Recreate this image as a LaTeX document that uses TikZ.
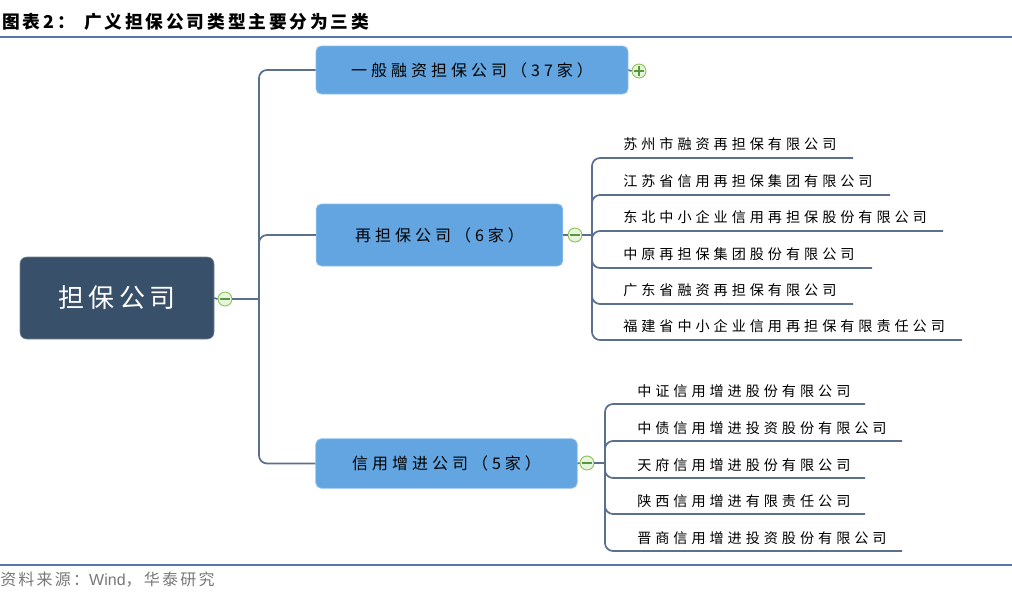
\documentclass[tikz,border=0pt]{standalone}
\usepackage{fontspec}
\setmainfont{Noto Sans CJK SC}
\newfontfamily\latinf{Liberation Sans}
\definecolor{rulecol}{RGB}{84,121,166}
\definecolor{rootfill}{RGB}{56,80,105}
\definecolor{nodeblue}{RGB}{98,165,224}
\definecolor{nodeedge}{RGB}{140,190,235}
\definecolor{linkcol}{RGB}{90,112,140}
\definecolor{tgreen}{RGB}{140,195,90}
\definecolor{tfill}{RGB}{232,245,222}
\definecolor{tdark}{RGB}{90,150,60}
\definecolor{srcgray}{RGB}{120,120,120}
\begin{document}
\begin{tikzpicture}[x=0.75pt,y=-0.75pt,
  topic/.style={draw=nodeedge, fill=nodeblue, rounded corners=4pt, line width=0.6pt, inner sep=0pt,
    font=\fontsize{12}{14}\selectfont\addfontfeature{LetterSpace=25}},
  rootbox/.style={draw=rootfill!70, fill=rootfill, rounded corners=5pt, inner sep=0pt, text=white,
    font=\fontsize{19.5}{22}\selectfont\addfontfeature{LetterSpace=16}},
  leaf/.style={anchor=west, inner sep=0pt, font=\fontsize{10.6}{12}\selectfont\addfontfeature{LetterSpace=28}},
  toggle/.style={circle, draw=tgreen, fill=tfill, minimum size=10.5pt, inner sep=0pt, line width=0.7pt},
  link/.style={draw=linkcol, line width=1.3pt, rounded corners=6pt},
  sign/.style={draw=tdark, line width=0.8pt}]
\useasboundingbox (0,0) rectangle (1012,593);
% title and rules
\node[anchor=west, inner sep=0pt, font=\fontsize{13.3}{15}\selectfont\bfseries\addfontfeature{LetterSpace=16}] (title) at (2,22) {图表2：\hspace{7pt}广义担保公司类型主要分为三类};
\draw[rulecol, line width=1.6pt] (0,37) -- (1012,37);
\draw[rulecol, line width=1.6pt] (0,565) -- (1012,565);
\node[anchor=west, inner sep=0pt, text=srcgray, font=\fontsize{12}{14}\selectfont\addfontfeature{LetterSpace=14}] (src) at (0,580) {资料来源：{\latinf\addfontfeature{LetterSpace=0}Wind}，华泰研究};

% root
\node[rootbox, minimum width=145.5pt, minimum height=61.5pt] (root) at (117,298) {担保公司};
\node[toggle] (t0) at (225,299) {};
\draw[sign] ([xshift=-3.5pt]t0.center) -- ([xshift=3.5pt]t0.center);
\coordinate (hub0) at (259,299);

% topics
\node[topic, minimum width=234pt, minimum height=36pt] (n1) at (472,70) {一般融资担保公司（37家）};
\node[topic, minimum width=185pt, minimum height=46.5pt] (n2) at (439.5,235) {再担保公司（6家）};
\node[topic, minimum width=196pt, minimum height=37pt] (n3) at (446.5,463.5) {信用增进公司（5家）};

\node[toggle] (t1) at (639,71) {};
\draw[sign] ([xshift=-3.5pt]t1.center) -- ([xshift=3.5pt]t1.center);
\draw[sign] ([yshift=-3.5pt]t1.center) -- ([yshift=3.5pt]t1.center);
\node[toggle] (t2) at (575,235) {};
\draw[sign] ([xshift=-3.5pt]t2.center) -- ([xshift=3.5pt]t2.center);
\node[toggle] (t3) at (587,463) {};
\draw[sign] ([xshift=-3.5pt]t3.center) -- ([xshift=3.5pt]t3.center);

\draw[link] (root.east) -- (t0.west);
\draw[link] (t0.east) -- (hub0);
\draw[link] (hub0) |- (n1.west);
\draw[link] (hub0) |- (n2.west);
\draw[link] (hub0) |- (n3.west);
\draw[link] (n1.east) -- (t1.west);
\draw[link] (n2.east) -- (t2.west);
\draw[link] (n3.east) -- (t3.west);

% re-guarantee leaves
\coordinate (hub2) at (592,235);
\draw[link] (t2.east) -- (hub2);
\foreach \i/\y/\e/\txt in {
  a/158/853/苏州市融资再担保有限公司,
  b/195/890/江苏省信用再担保集团有限公司,
  c/231/943/东北中小企业信用再担保股份有限公司,
  d/268/872/中原再担保集团股份有限公司,
  e/304/853/广东省融资再担保有限公司,
  f/340/962/福建省中小企业信用再担保有限责任公司}{
  \node[leaf] (l\i) at (623,\y-14) {\txt};
  \coordinate (e\i) at (\e,\y);
  \draw[link] (hub2) |- (e\i);
}

% credit enhancement leaves
\coordinate (hub3) at (605,463);
\draw[link] (t3.east) -- (hub3);
\foreach \i/\y/\e/\txt in {
  p/404/865/中证信用增进股份有限公司,
  q/441/902/中债信用增进投资股份有限公司,
  r/478/865/天府信用增进股份有限公司,
  s/514/865/陕西信用增进有限责任公司,
  t/551/902/晋商信用增进投资股份有限公司}{
  \node[leaf] (m\i) at (637,\y-13) {\txt};
  \coordinate (f\i) at (\e,\y);
  \draw[link] (hub3) |- (f\i);
}
\end{tikzpicture}
\end{document}
